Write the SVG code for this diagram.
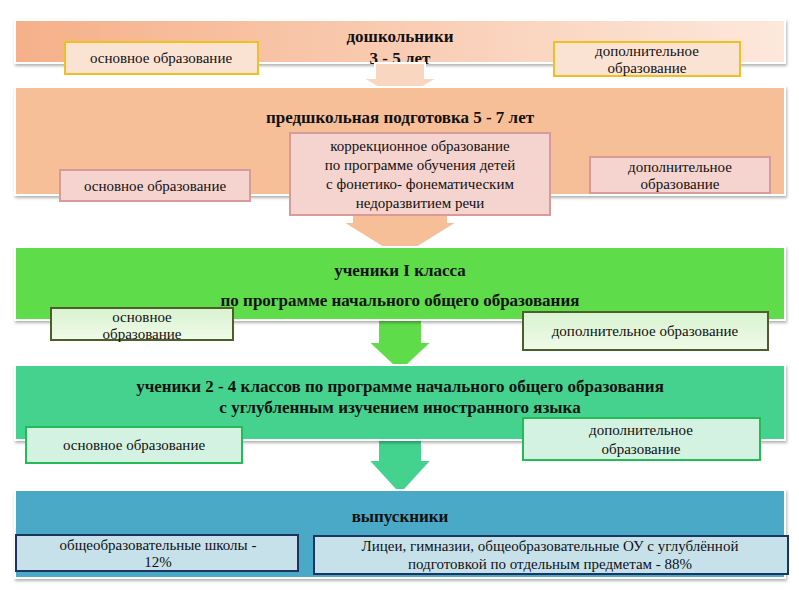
<svg xmlns="http://www.w3.org/2000/svg" width="799" height="590" viewBox="0 0 799 590">
<defs>
<linearGradient id="g1" x1="0" x2="1"><stop offset="0" stop-color="#f5b089"/><stop offset="1" stop-color="#fde8dc"/></linearGradient>
<linearGradient id="gb" x1="0" y1="0" x2="0" y2="1"><stop offset="0" stop-color="#d8f2d0"/><stop offset="1" stop-color="#f0fbe8"/></linearGradient>
<filter id="sh" x="-5%" y="-10%" width="110%" height="130%"><feDropShadow dx="1" dy="2" stdDeviation="1.5" flood-color="#000" flood-opacity="0.3"/></filter>
</defs>
<style>
text{font-family:"Liberation Serif",serif;text-anchor:middle;fill:#111}
.t{font-weight:bold;font-size:17px}
.b{font-size:15px}
.band{filter:url(#sh);stroke:#fff;stroke-width:2}
.arr{stroke:#fff;stroke-width:2}
</style>
<rect width="799" height="590" fill="#fff"/>
<g id="band1"><rect class="band" x="15" y="20" width="770" height="43" fill="url(#g1)"/>
<text class="t" x="400" y="42">дошкольники</text><text class="t" x="400" y="64">3 - 5 лет</text></g>
<g id="connectors">
<path class="arr" d="M375 63 H425 V78 H438 L400 100 L362 78 H375 Z" fill="#f9d6bf"/>
<path class="arr" d="M352 195 H448 V222 H458 L400 258 L342 222 H352 Z" fill="#f7bf97"/>
<path class="arr" d="M378 320 H422 V342 H432 L400 372 L368 342 H378 Z" fill="#5fdc4a"/>
<path class="arr" d="M378 440 H422 V460 H432 L400 495 L368 460 H378 Z" fill="#44d28f"/>
</g>
<g id="band1boxes">
<rect x="65" y="42" width="193" height="32" fill="#fbe3d4" stroke="#f0c020" stroke-width="2"/>
<text class="b" x="161" y="63">основное образование</text>
<rect x="554" y="42" width="186" height="34" fill="#fbe3d4" stroke="#f0c020" stroke-width="2"/>
<text class="b" x="647" y="56">дополнительное</text><text class="b" x="647" y="73">образование</text></g>
<g id="band2"><rect class="band" x="15" y="87" width="770" height="108" fill="#f7bf97"/>
<text class="t" x="400" y="123">предшкольная подготовка  5 - 7 лет</text></g>
<g id="b2c"><rect x="290" y="133" width="260" height="82" fill="#f5d3ce" stroke="#d99a9a" stroke-width="2"/>
<text class="b" x="420" y="151">коррекционное образование</text><text class="b" x="420" y="170">по программе обучения детей</text><text class="b" x="420" y="189">с фонетико- фонематическим</text><text class="b" x="420" y="208">недоразвитием речи</text></g>
<g id="b2l"><rect x="60" y="170" width="190" height="31" fill="#f5d3ce" stroke="#d99a9a" stroke-width="2"/><text class="b" x="155" y="191">основное образование</text></g>
<g id="b2r"><rect x="590" y="157" width="180" height="36" fill="#f5d3ce" stroke="#d99a9a" stroke-width="2"/><text class="b" x="680" y="172">дополнительное</text><text class="b" x="680" y="189">образование</text></g>
<g id="band3"><rect class="band" x="15" y="247" width="770" height="73" fill="#5fdc4a"/>
<text class="t" x="400" y="276">ученики I класса</text><text class="t" x="400" y="306">по программе начального общего образования</text></g>
<g id="b3l"><rect x="51" y="308" width="182" height="32" fill="url(#gb)" stroke="#4d5e2a" stroke-width="2"/><text class="b" x="142" y="322">основное</text><text class="b" x="142" y="339">образование</text></g>
<g id="b3r"><rect x="523" y="312" width="245" height="38" fill="url(#gb)" stroke="#4d5e2a" stroke-width="2"/><text class="b" x="645" y="336">дополнительное образование</text></g>
<g id="band4"><rect class="band" x="15" y="365" width="770" height="75" fill="#44d28f"/>
<text class="t" x="400" y="392">ученики 2 - 4 классов по программе начального общего образования</text><text class="t" x="400" y="413">с углубленным изучением  иностранного языка</text></g>
<g id="b4l"><rect x="26" y="427" width="216" height="36" fill="#d3f2e2" stroke="#22bb55" stroke-width="2"/><text class="b" x="134" y="450">основное образование</text></g>
<g id="b4r"><rect x="523" y="418" width="237" height="42" fill="#d3f2e2" stroke="#22bb55" stroke-width="2"/><text class="b" x="641" y="435">дополнительное</text><text class="b" x="641" y="454">образование</text></g>
<g id="band5"><rect class="band" x="15" y="490" width="770" height="88" fill="#4aa9c6"/>
<text class="t" x="400" y="522">выпускники</text></g>
<g id="b5l"><rect x="16" y="535" width="282" height="36" fill="#c7e1eb" stroke="#1c3560" stroke-width="2"/><text class="b" x="158" y="550">общеобразовательные школы -</text><text class="b" x="158" y="567">12%</text></g>
<g id="b5r"><rect x="314" y="536" width="474" height="38" fill="#c7e1eb" stroke="#1c3560" stroke-width="2"/><text class="b" x="550" y="551">Лицеи, гимназии, общеобразовательные ОУ с углублённой</text><text class="b" x="550" y="569">подготовкой по отдельным предметам - 88%</text></g>
</svg>
